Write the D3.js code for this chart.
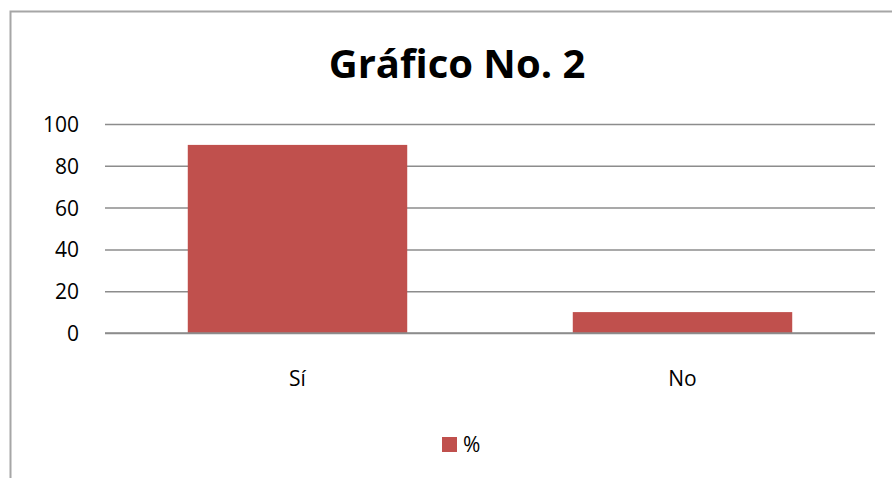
<!DOCTYPE html>
<html>
<head>
<meta charset="utf-8">
<script src="https://cdn.jsdelivr.net/npm/d3@7"></script>
<style>
  html, body { margin: 0; padding: 0; background: #fff; }
  svg { display: block; }
  text { font-family: "Open Sans", "Liberation Sans", sans-serif; fill: #000; }
</style>
</head>
<body>
<svg id="chart" width="892" height="478"></svg>
<script>
// Chart data
const categories = ["Sí", "No"];
const seriesName = "%";
const values = [90, 10];
const yTicks = [0, 20, 40, 60, 80, 100];
const title = "Gráfico No. 2";

const svg = d3.select("#chart");
const W = 892, H = 478;
const barColor = "#C0504D";
const gridColor = "#8c8c8c";

// Chart frame (left and top edges visible)
svg.append("path")
  .attr("d", `M10.5,${H} L10.5,11.5 L${W},11.5`)
  .attr("fill", "none")
  .attr("stroke", "#a6a6a6")
  .attr("stroke-width", 2);

const plot = { left: 105, right: 875, top: 124, bottom: 333 };

const x = d3.scaleBand()
  .domain(categories)
  .range([plot.left, plot.right])
  .paddingInner(0.43)
  .paddingOuter(0.215);

const y = d3.scaleLinear()
  .domain([0, 100])
  .range([plot.bottom, plot.top]);

// Horizontal gridlines and value labels
const yAxis = d3.axisLeft(y)
  .tickValues(yTicks)
  .tickSize(-(plot.right - plot.left))
  .tickPadding(26)
  .tickFormat(d3.format("d"));

const yg = svg.append("g")
  .attr("transform", `translate(${plot.left},0)`)
  .call(yAxis);
yg.select(".domain").remove();
yg.selectAll(".tick line")
  .attr("stroke", gridColor)
  .attr("stroke-width", 1.5);
yg.selectAll(".tick text")
  .attr("font-size", 21)
  .attr("dy", "0.36em")
  .attr("fill", "#000");

// Bars
svg.append("g").selectAll("rect")
  .data(values)
  .join("rect")
  .attr("x", (d, i) => x(categories[i]))
  .attr("width", x.bandwidth())
  .attr("y", d => y(d))
  .attr("height", d => y(0) - y(d))
  .attr("fill", barColor);

// Baseline redrawn over the bars
svg.append("line")
  .attr("x1", plot.left).attr("x2", plot.right)
  .attr("y1", y(0)).attr("y2", y(0))
  .attr("stroke", gridColor)
  .attr("stroke-width", 1.5);

// Category labels
svg.append("g").selectAll("text")
  .data(categories)
  .join("text")
  .attr("x", d => x(d) + x.bandwidth() / 2)
  .attr("y", 386)
  .attr("text-anchor", "middle")
  .attr("font-size", 21)
  .text(d => d);

// Title
svg.append("text")
  .attr("x", 457)
  .attr("y", 78)
  .attr("text-anchor", "middle")
  .attr("font-size", 40)
  .attr("font-weight", "bold")
  .text(title);

// Legend
const lg = svg.append("g").attr("transform", "translate(442,437)");
lg.append("rect")
  .attr("width", 15).attr("height", 15)
  .attr("fill", barColor);
lg.append("text")
  .attr("x", 21).attr("y", 15)
  .attr("font-size", 21)
  .text(seriesName);
</script>
</body>
</html>
